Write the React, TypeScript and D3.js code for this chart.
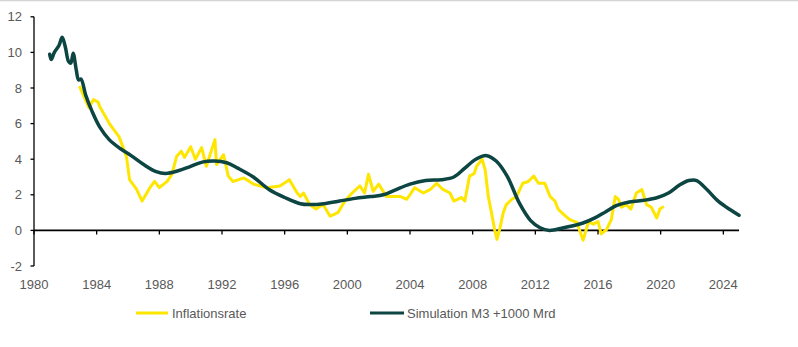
import React from "react";
import * as d3 from "d3";

const yTicks = [-2, 0, 2, 4, 6, 8, 10, 12];
const xTicks = [1980, 1984, 1988, 1992, 1996, 2000, 2004, 2008, 2012, 2016, 2020, 2024];

const simYears = [1981.0, 1981.1, 1981.3, 1981.6, 1981.8, 1982.0, 1982.2, 1982.35, 1982.5, 1982.7, 1982.85, 1983.0, 1983.3, 1983.7, 1984.2, 1984.8, 1985.5, 1986.2, 1987, 1987.8, 1988.4, 1989.2, 1990, 1990.8, 1991.5, 1992.3, 1993, 1994, 1995, 1996, 1997, 1997.6, 1998.5, 1999.5, 2000.5, 2001.5, 2002.3, 2003, 2004, 2005, 2006, 2006.8, 2007.5, 2008.2, 2008.9, 2009.5, 2010.2, 2011, 2011.7, 2012.3, 2012.9, 2013.8, 2015, 2015.8, 2016.5, 2017.2, 2018, 2019, 2019.8, 2020.5, 2021.2, 2021.8, 2022.3, 2023, 2023.6, 2024.2, 2025];
const simValues = [9.9, 9.6, 10.0, 10.4, 10.85, 10.3, 9.5, 9.4, 9.95, 9.0, 8.45, 8.5, 7.6, 6.7, 5.8, 5.1, 4.6, 4.2, 3.7, 3.3, 3.2, 3.35, 3.6, 3.85, 3.9, 3.8, 3.5, 3.0, 2.3, 1.85, 1.5, 1.45, 1.5, 1.65, 1.8, 1.9, 2.0, 2.25, 2.6, 2.8, 2.85, 3.0, 3.5, 4.0, 4.2, 3.9, 3.05, 1.5, 0.55, 0.15, 0.0, 0.15, 0.4, 0.7, 1.05, 1.4, 1.6, 1.7, 1.85, 2.1, 2.55, 2.8, 2.8, 2.25, 1.7, 1.3, 0.85];

const infYears = [1982.9, 1983.5, 1983.8, 1984.1, 1984.2, 1984.85, 1985.4, 1985.5, 1985.9, 1986.1, 1986.55, 1986.9, 1987.4, 1987.7, 1988.0, 1988.5, 1988.8, 1989.1, 1989.4, 1989.6, 1990.0, 1990.3, 1990.7, 1991.0, 1991.55, 1991.65, 1992.1, 1992.4, 1992.7, 1993.4, 1994.0, 1994.85, 1995.7, 1996.3, 1996.8, 1997.0, 1997.2, 1997.6, 1998.0, 1998.45, 1998.9, 1999.4, 1999.85, 2000.3, 2000.8, 2001.1, 2001.35, 2001.65, 2002.0, 2002.5, 2003.4, 2003.8, 2004.3, 2004.85, 2005.3, 2005.7, 2006.1, 2006.55, 2006.8, 2007.3, 2007.5, 2007.8, 2008.1, 2008.25, 2008.6, 2008.8, 2009.0, 2009.2, 2009.4, 2009.55, 2009.75, 2009.95, 2010.15, 2010.5, 2010.8, 2011.2, 2011.55, 2011.9, 2012.2, 2012.6, 2012.95, 2013.25, 2013.45, 2013.8, 2014.2, 2014.65, 2015.05, 2015.4, 2015.7, 2016.0, 2016.2, 2016.55, 2016.85, 2017.1, 2017.3, 2017.5, 2017.8, 2018.1, 2018.45, 2018.8, 2019.1, 2019.4, 2019.75, 2019.95, 2020.2];
const infValues = [8.1, 6.9, 7.35, 7.2, 6.95, 5.95, 5.3, 5.1, 4.15, 2.85, 2.3, 1.65, 2.4, 2.75, 2.4, 2.75, 3.15, 4.15, 4.45, 4.1, 4.7, 4.0, 4.65, 3.6, 5.1, 3.7, 4.25, 3.05, 2.75, 2.95, 2.6, 2.4, 2.5, 2.85, 2.1, 1.9, 2.1, 1.45, 1.2, 1.45, 0.8, 1.0, 1.65, 2.1, 2.5, 2.1, 3.15, 2.2, 2.6, 1.9, 1.9, 1.75, 2.4, 2.1, 2.3, 2.65, 2.3, 2.1, 1.65, 1.85, 1.65, 3.05, 3.2, 3.6, 4.0, 3.4, 1.9, 1.0, 0.05, -0.5, 0.15, 1.0, 1.45, 1.75, 1.9, 2.65, 2.75, 3.05, 2.65, 2.65, 1.9, 1.65, 1.2, 0.9, 0.6, 0.45, -0.55, 0.5, 0.35, 0.5, -0.2, 0.05, 0.6, 1.9, 1.75, 1.3, 1.45, 1.2, 2.1, 2.3, 1.45, 1.3, 0.7, 1.2, 1.35];

const legendLabels = ["Inflationsrate", "Simulation M3 +1000 Mrd"];
const YELLOW = "#FFE600";
const DARK = "#0C4542";
const TEXT = "#595959";

export default function App() {
  const width = 798;
  const height = 347;
  const x = d3.scaleLinear().domain([1980, 2025]).range([34, 739]);
  const y = d3.scaleLinear().domain([-2, 12]).range([266, 16.8]);

  const sim = simYears.map((t, i) => [t, simValues[i]] as [number, number]);
  const inf = infYears.map((t, i) => [t, infValues[i]] as [number, number]);

  const simLine = d3
    .line<[number, number]>()
    .x((d) => x(d[0]))
    .y((d) => y(d[1]))
    .curve(d3.curveCatmullRom.alpha(0.5));
  const infLine = d3
    .line<[number, number]>()
    .x((d) => x(d[0]))
    .y((d) => y(d[1]))
    .curve(d3.curveLinear);

  const font = "'Liberation Sans', Arial, Helvetica, sans-serif";

  return (
    <svg
      width={width}
      height={height}
      style={{ position: "absolute", left: 0, top: 0, background: "#fff" }}
      fontFamily={font}
    >
      <line x1={0} x2={width} y1={0.5} y2={0.5} stroke="#d4d4d4" strokeWidth={1.5} />
      <line x1={x(1980)} x2={x(1980)} y1={y(12)} y2={y(-2)} stroke="#000" strokeWidth={1.3} />
      {yTicks.map((t) => (
        <g key={"y" + t}>
          <line x1={x(1980) - 3.5} x2={x(1980)} y1={y(t)} y2={y(t)} stroke="#000" strokeWidth={1.3} />
          <text x={22} y={y(t)} dy="0.35em" textAnchor="end" fontSize={13} fill={TEXT}>
            {t}
          </text>
        </g>
      ))}
      <line x1={x(1980)} x2={x(2025)} y1={y(0)} y2={y(0)} stroke="#000" strokeWidth={1.6} />
      {xTicks.map((t) => (
        <g key={"x" + t}>
          <line x1={x(t)} x2={x(t)} y1={y(0)} y2={y(0) + 4} stroke="#000" strokeWidth={1.3} />
          <text x={x(t)} y={289} textAnchor="middle" fontSize={13} fill={TEXT}>
            {t}
          </text>
        </g>
      ))}
      <path d={infLine(inf) || ""} fill="none" stroke={YELLOW} strokeWidth={3} strokeLinejoin="round" />
      <path d={simLine(sim) || ""} fill="none" stroke={DARK} strokeWidth={3.5} strokeLinejoin="round" strokeLinecap="round" />
      <line x1={136} x2={168} y1={313} y2={313} stroke={YELLOW} strokeWidth={3} />
      <text x={172} y={313} dy="0.35em" fontSize={13} fill={TEXT}>
        {legendLabels[0]}
      </text>
      <line x1={370} x2={404} y1={313} y2={313} stroke={DARK} strokeWidth={3} />
      <text x={407} y={313} dy="0.35em" fontSize={13} fill={TEXT}>
        {legendLabels[1]}
      </text>
    </svg>
  );
}
